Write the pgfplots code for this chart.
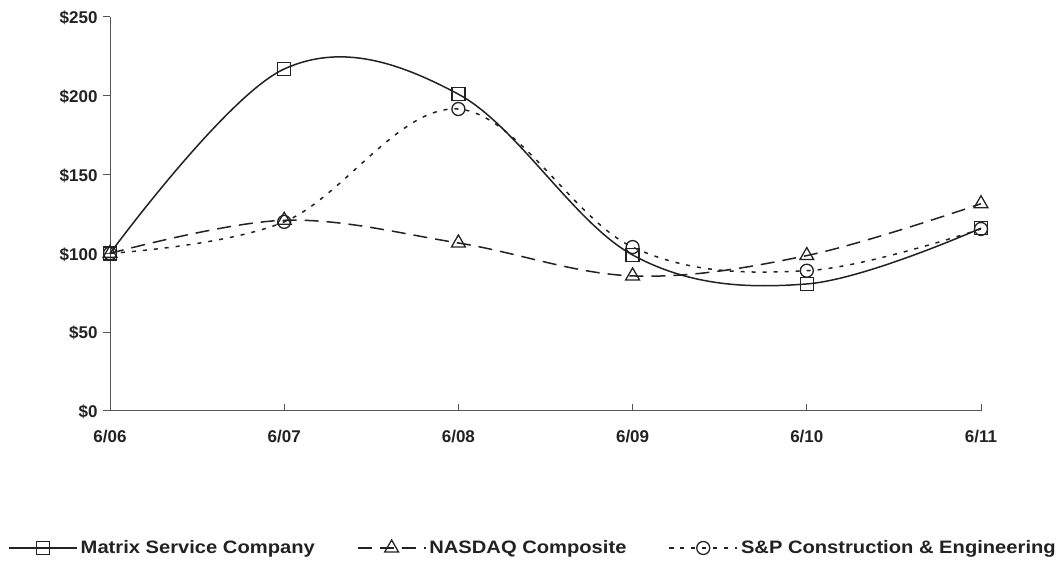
\documentclass[border=0pt]{standalone}
\usepackage{pgfplots}
\pgfplotsset{compat=1.18}
\usepackage{fontspec}
\setmainfont{Liberation Sans}
\newfontfamily\legendfont[FakeStretch=1.12]{Liberation Sans}

\definecolor{ink}{HTML}{222222}
\definecolor{axisgray}{HTML}{555555}

\pgfplotstableread{
x matrix nasdaq sp
0 100   100   100
1 217   121   120
2 201   106.6 191.6
3 99    85.7  104
4 80.6  98.6  89
5 116   131.5 115.5
}\perf

\begin{document}
\begin{tikzpicture}
\begin{axis}[
    scale only axis,
    width=871pt, height=394pt,
    xmin=0, xmax=5,
    ymin=0, ymax=250,
    axis x line=bottom, axis y line=left,
    axis line style={-, axisgray, line width=1pt},
    xtick={0,...,5},
    xticklabels={6/06,6/07,6/08,6/09,6/10,6/11},
    ytick={0,50,...,250},
    yticklabel={\$\pgfmathprintnumber{\tick}},
    /pgf/number format/assume math mode=true,
    ticklabel style={font=\fontsize{17}{19}\selectfont\bfseries, color=ink},
    x tick style={axisgray, line width=1pt},
    y tick style={axisgray, line width=1pt},
    xtick align=inside, ytick align=outside,
    major tick length=7pt,
    xticklabel style={yshift=-16pt},
    yticklabel style={xshift=-2pt, yshift=-1pt},
    every axis plot/.append style={ink, line width=1.5pt, smooth, tension=0.6},
    clip=false,
    legend columns=3,
    legend style={
        draw=none, fill=none, inner sep=0pt,
        at={(-0.1171,-0.3477)}, anchor=west,
        font=\fontsize{18}{20}\selectfont\legendfont\bfseries,
        text=ink,
        nodes={inner xsep=3pt},
        /tikz/every even column/.append style={column sep=39pt},
    },
    legend image code/.code={
        \draw[#1, mark repeat=2, mark phase=2]
            plot coordinates {(0pt,0pt) (34pt,0pt) (68pt,0pt)};
    },
]
\addplot[solid, mark=square, mark size=6.5pt, mark options={solid, line width=1.3pt}]
    table[x=x, y=matrix] {\perf};
\addlegendentry{Matrix Service Company}
\addplot[dash pattern=on 14pt off 8pt, mark=triangle, mark size=8pt, mark options={solid, line width=1.3pt}]
    table[x=x, y=nasdaq] {\perf};
\addlegendentry{NASDAQ Composite}
\addplot[dash pattern=on 4pt off 7pt, mark=o, mark size=6.5pt, mark options={solid, line width=1.3pt}]
    table[x=x, y=sp] {\perf};
\addlegendentry{S\&P Construction \& Engineering}
\path (rel axis cs:-0.1263,-0.4036) rectangle (rel axis cs:1.0930,1.0431);
\end{axis}
\end{tikzpicture}
\end{document}
